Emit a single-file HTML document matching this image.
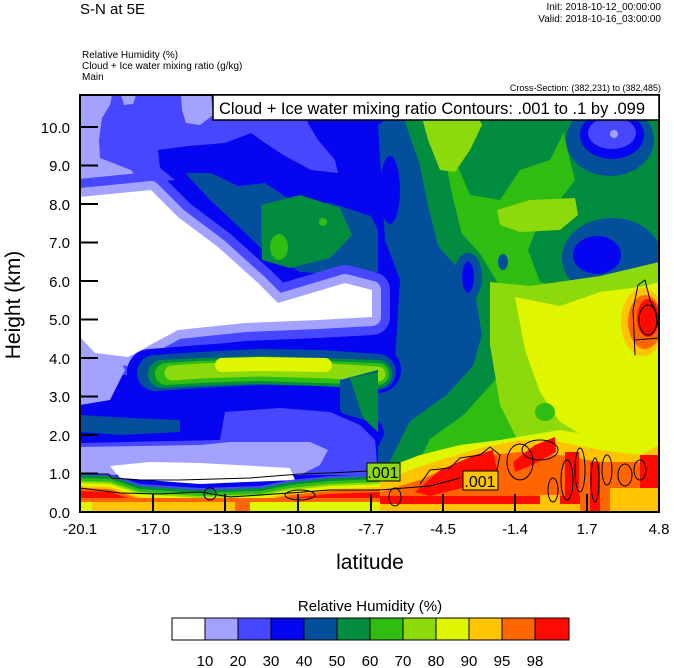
<!DOCTYPE html>
<html><head><meta charset="utf-8"><style>
html,body{margin:0;padding:0;background:#fff;}
svg{display:block;font-family:"Liberation Sans",Arial,sans-serif;}
</style></head><body>
<svg width="674" height="668" viewBox="0 0 674 668" xmlns="http://www.w3.org/2000/svg">
<defs><clipPath id="pc"><rect x="80" y="95" width="579" height="417"/></clipPath></defs>
<text x="80" y="14" font-size="15">S-N at 5E</text>
<text x="661" y="10" font-size="10" text-anchor="end">Init: 2018-10-12_00:00:00</text>
<text x="661" y="22" font-size="10" text-anchor="end">Valid: 2018-10-16_03:00:00</text>
<text x="82" y="58" font-size="10">Relative Humidity   (%)</text>
<text x="82" y="69" font-size="10">Cloud + Ice water mixing ratio   (g/kg)</text>
<text x="82" y="80" font-size="10">Main</text>
<text x="661" y="91" font-size="9" text-anchor="end">Cross-Section: (382,231) to (382,485)</text>

<g clip-path="url(#pc)" stroke-linejoin="round" stroke-linecap="round">
<rect x="80" y="95" width="579" height="417" fill="#0505f0"/>
<polygon points="378,125 400,110 430,120 470,200 495,300 490,380 440,430 395,455 375,460 365,420 395,360 400,280 385,240" fill="#034f9b"/>
<ellipse cx="390" cy="190" rx="10" ry="34" fill="#0505f0"/>
<ellipse cx="375" cy="440" rx="10" ry="20" fill="#0505f0"/>
<polygon points="420,95 659,95 659,512 400,512 400,470 420,430 455,405 485,372 495,335 488,292 470,262 450,240 440,200 432,160 418,120" fill="#2fbd12" stroke="#034f9b" stroke-width="60"/>
<polygon points="420,95 659,95 659,512 400,512 400,470 420,430 455,405 485,372 495,335 488,292 470,262 450,240 440,200 432,160 418,120" fill="#2fbd12" stroke="#028c40" stroke-width="26"/>
<polygon points="450,95 560,95 565,130 550,160 520,170 500,200 470,195 455,160" fill="#028c40"/>
<polygon points="560,95 659,95 659,305 620,302 580,292 540,282 528,250 540,220 560,200 575,180 565,140" fill="#028c40"/>
<ellipse cx="612" cy="258" rx="50" ry="40" fill="#034f9b"/>
<ellipse cx="597" cy="255" rx="24" ry="19" fill="#0505f0"/>
<ellipse cx="610" cy="140" rx="44" ry="36" fill="#034f9b"/>
<ellipse cx="612" cy="135" rx="32" ry="24" fill="#0505f0"/>
<ellipse cx="612" cy="133" rx="24" ry="16" fill="#4747ff"/>
<ellipse cx="614" cy="134" rx="4" ry="4" fill="#a3a3ff"/>
<ellipse cx="468" cy="277" rx="10" ry="20" fill="#0505f0" stroke="#034f9b" stroke-width="8"/>
<ellipse cx="503" cy="262" rx="5" ry="8" fill="#034f9b"/>
<polygon points="420,110 470,100 482,125 470,150 455,172 440,170 428,140" fill="#8cd90c"/>
<polygon points="497,210 530,200 575,198 578,215 560,230 520,232 500,225" fill="#8cd90c"/>
<polygon points="490,282 530,286 600,276 659,262 659,455 560,455 520,445 500,405 490,345" fill="#8cd90c"/>
<polygon points="515,297 560,306 600,292 640,287 659,282 659,442 620,446 590,440 560,422 540,392 525,350" fill="#e0f500"/>
<ellipse cx="545" cy="412" rx="10" ry="9" fill="#2fbd12"/>
<ellipse cx="643" cy="322" rx="22" ry="34" fill="#ffc400"/>
<ellipse cx="645" cy="322" rx="17" ry="27" fill="#ff6600"/>
<ellipse cx="648" cy="318" rx="11" ry="19" fill="#ff0a00"/>
<polygon points="185,173 211,173 238,186 265,183 295,203 331,203 371,216 378,230 378,272 330,274 300,272 265,252 240,228 210,200" fill="#034f9b"/>
<polygon points="261,205 300,195 340,208 352,235 330,258 290,268 262,260" fill="#028c40"/>
<ellipse cx="279" cy="247" rx="9" ry="13" fill="#2fbd12"/>
<ellipse cx="323" cy="222" rx="4" ry="4" fill="#2fbd12"/>
<polygon points="80,95 300,95 308,123 318,140 335,160 338,173 311,170 285,156 265,143 251,133 225,143 188,146 158,150 160,168 175,180 80,190" fill="#4747ff"/>
<polygon points="80,95 112,95 110,105 102,118 99,140 100,158 118,165 131,170 140,182 80,190" fill="#a3a3ff"/>
<polygon points="121,95 136,95 133,104 124,105" fill="#a3a3ff"/>
<polygon points="181,95 211,95 213,115 200,125 186,123 182,110" fill="#a3a3ff"/>
<polygon points="80,197 151,190 178,217 218,247 258,283 278,303 345,283 372,290 372,317 318,320 245,323 178,330 128,357 95,353 80,337" fill="#4747ff" stroke="#4747ff" stroke-width="36"/>
<polygon points="80,197 151,190 178,217 218,247 258,283 278,303 345,283 372,290 372,317 318,320 245,323 178,330 128,357 95,353 80,337" fill="#a3a3ff" stroke="#a3a3ff" stroke-width="18"/>
<polygon points="80,330 110,340 125,370 110,400 80,405" fill="#a3a3ff"/>
<polygon points="80,197 151,190 178,217 218,247 258,283 278,303 345,283 372,290 372,317 318,320 245,323 178,330 128,357 95,353 80,337" fill="#fff"/>
<g fill="none">
<polyline points="150,372 200,368 260,364 320,364 378,370" stroke="#0505f0" stroke-width="46"/>
<polyline points="155,373 200,370 260,367 320,368 378,372" stroke="#034f9b" stroke-width="36"/>
<polyline points="162,374 200,372 260,370 320,372 378,374" stroke="#028c40" stroke-width="28"/>
<polyline points="166,374 200,372 260,370 320,372 378,374" stroke="#2fbd12" stroke-width="22"/>
<polyline points="172,373 200,371 260,369 330,371 378,374" stroke="#8cd90c" stroke-width="15"/>
<polyline points="222,365 260,364 325,365" stroke="#e0f500" stroke-width="14"/>
</g>
<polygon points="340,380 378,370 378,465 360,440 340,410" fill="#034f9b"/>
<polygon points="350,378 378,372 378,440 362,415" fill="#028c40"/>
<polygon points="80,405 130,408 180,415 225,410 280,405 330,410 365,420 378,432 378,475 80,475" fill="#0505f0"/>
<polygon points="80,415 130,418 180,420 180,432 120,435 80,432" fill="#034f9b"/>
<polygon points="80,443 220,440 225,412 280,408 330,412 360,425 375,440 378,475 80,475" fill="#4747ff"/>
<polygon points="80,447 200,445 230,442 310,442 328,450 320,465 300,475 80,475" fill="#a3a3ff"/>
<polygon points="110,466 150,462 200,463 290,468 295,480 200,484 120,478" fill="#fff"/>
<polygon points="80,473 110,474 140,484 200,488 260,486 290,480 330,476 380,474 420,470 420,512 80,512" fill="#4747ff"/>
<polygon transform="translate(0,2)" points="80,473 110,474 140,484 200,488 260,486 290,480 330,476 380,474 420,470 420,512 80,512" fill="#028c40"/>
<polygon transform="translate(0,5)" points="80,473 110,474 140,484 200,488 260,486 290,480 330,476 380,474 420,470 420,512 80,512" fill="#2fbd12"/>
<polygon transform="translate(0,8)" points="80,473 110,474 140,484 200,488 260,486 290,480 330,476 380,474 420,470 420,512 80,512" fill="#8cd90c"/>
<polygon transform="translate(0,10)" points="80,473 110,474 140,484 200,488 260,486 290,480 330,476 380,474 420,470 420,512 80,512" fill="#e0f500"/>
<polygon transform="translate(0,13)" points="80,473 110,474 140,484 200,488 260,486 290,480 330,476 380,474 420,470 420,512 80,512" fill="#ffc400"/>
<polygon transform="translate(0,15)" points="80,473 110,474 140,484 200,488 260,486 290,480 330,476 380,474 420,470 420,512 80,512" fill="#ff6600"/>
<polygon transform="translate(0,18)" points="80,473 110,474 140,484 200,488 260,486 290,480 330,476 380,474 420,470 420,512 80,512" fill="#ff0a00"/>
<rect x="80" y="498" width="340" height="14" fill="#ffc400"/>
<rect x="80" y="498" width="340" height="4" fill="#ff6600"/>
<rect x="80" y="502" width="12" height="10" fill="#e0f500"/>
<rect x="235" y="502" width="16" height="10" fill="#ff6600"/>
<rect x="250" y="502" width="170" height="10" fill="#e0f500"/>
<polygon points="380,470 420,455 460,445 500,440 560,430 620,440 659,425 659,512 380,512" fill="#e0f500"/>
<polygon points="380,482 410,470 440,460 480,448 520,440 560,442 600,450 640,455 659,445 659,512 380,512" fill="#ffc400"/>
<polygon points="380,492 420,480 460,462 490,455 520,452 560,455 600,462 659,462 659,512 380,512" fill="#ff6600"/>
<polygon points="415,492 440,470 475,455 493,450 497,470 470,486 430,496" fill="#ff0a00"/>
<polygon points="513,462 535,445 555,437 556,452 530,466 515,472" fill="#ff0a00"/>
<rect x="565" y="452" width="14" height="60" fill="#ff0a00"/>
<rect x="590" y="462" width="10" height="50" fill="#ff0a00"/>
<rect x="640" y="455" width="19" height="35" fill="#ff0a00"/>
<rect x="380" y="496" width="200" height="8" fill="#ff0a00"/>
<rect x="380" y="504" width="200" height="8" fill="#ffc400"/>
<rect x="610" y="488" width="49" height="24" fill="#ffc400"/>
<rect x="540" y="495" width="20" height="17" fill="#ffc400"/>
<g fill="none" stroke="#000" stroke-width="1">
<polyline points="80,474 108,474 112,478 140,480 180,480 250,478 300,474 330,473 368,471"/>
<polyline points="80,488 120,493 160,494 200,492 230,497 290,493 330,490 380,490 430,486 460,478"/>
<polyline points="420,484 430,470 450,468 460,458 480,455 490,447 500,455 495,480"/>
<ellipse cx="300" cy="495" rx="15" ry="5"/>
<ellipse cx="210" cy="494" rx="6" ry="6"/>
<ellipse cx="395" cy="497" rx="6" ry="9"/>
<ellipse cx="520" cy="462" rx="13" ry="18"/>
<ellipse cx="540" cy="450" rx="18" ry="10"/>
<ellipse cx="567" cy="480" rx="6" ry="20"/>
<ellipse cx="580" cy="470" rx="5" ry="22"/>
<ellipse cx="595" cy="480" rx="4" ry="22"/>
<ellipse cx="607" cy="470" rx="5" ry="15"/>
<ellipse cx="625" cy="475" rx="7" ry="11"/>
<ellipse cx="640" cy="470" rx="6" ry="10"/>
<ellipse cx="553" cy="490" rx="5" ry="12"/>
<polyline points="635,355 633,310 638,285 645,280 650,300 655,310 659,330"/>
<ellipse cx="648" cy="320" rx="9" ry="15"/>
<polyline points="635,340 659,338"/>
</g>
<rect x="367" y="463" width="33" height="18" fill="#8cd90c" stroke="#000"/>
<text x="383" y="478" font-size="16" text-anchor="middle">.001</text>
<rect x="463" y="471" width="35" height="19" fill="#ffc400" stroke="#000"/>
<text x="480" y="487" font-size="16" text-anchor="middle">.001</text>
</g>
<g stroke="#000" stroke-width="2">
<line x1="80" y1="127" x2="98" y2="127"/><line x1="80" y1="165.5" x2="98" y2="165.5"/><line x1="80" y1="204" x2="98" y2="204"/><line x1="80" y1="242.5" x2="98" y2="242.5"/><line x1="80" y1="281" x2="98" y2="281"/><line x1="80" y1="319.5" x2="98" y2="319.5"/><line x1="80" y1="358" x2="98" y2="358"/><line x1="80" y1="396.5" x2="98" y2="396.5"/><line x1="80" y1="435" x2="98" y2="435"/><line x1="80" y1="473.5" x2="98" y2="473.5"/>
<line x1="153" y1="512" x2="153" y2="494"/><line x1="225" y1="512" x2="225" y2="494"/><line x1="298" y1="512" x2="298" y2="494"/><line x1="371" y1="512" x2="371" y2="494"/><line x1="443" y1="512" x2="443" y2="494"/><line x1="515" y1="512" x2="515" y2="494"/><line x1="587" y1="512" x2="587" y2="494"/>
</g>
<rect x="80" y="95" width="579" height="417" fill="none" stroke="#000" stroke-width="2"/>
<rect x="213" y="95" width="446" height="25" fill="#fff" stroke="#000" stroke-width="1.5"/>
<text x="219" y="114" font-size="16.5">Cloud + Ice water mixing ratio Contours: .001 to .1 by .099</text>
<g font-size="15" text-anchor="end">
<text x="70" y="133">10.0</text><text x="70" y="171">9.0</text><text x="70" y="210">8.0</text><text x="70" y="248">7.0</text><text x="70" y="287">6.0</text><text x="70" y="325">5.0</text><text x="70" y="364">4.0</text><text x="70" y="402">3.0</text><text x="70" y="441">2.0</text><text x="70" y="479">1.0</text><text x="70" y="518">0.0</text>
</g>
<g font-size="15" text-anchor="middle">
<text x="80" y="534">-20.1</text><text x="153" y="534">-17.0</text><text x="225" y="534">-13.9</text><text x="298" y="534">-10.8</text><text x="371" y="534">-7.7</text><text x="443" y="534">-4.5</text><text x="515" y="534">-1.4</text><text x="587" y="534">1.7</text><text x="659" y="534">4.8</text>
</g>
<text x="370" y="569" font-size="21" text-anchor="middle">latitude</text>
<text transform="translate(20,305) rotate(-90)" font-size="21" text-anchor="middle">Height (km)</text>
<text x="370" y="611" font-size="15" text-anchor="middle">Relative Humidity  (%)</text>
<g stroke="#000" stroke-width="1">
<rect x="172" y="618" width="33" height="22" fill="#fff"/>
<rect x="205" y="618" width="33" height="22" fill="#a3a3ff"/>
<rect x="238" y="618" width="33" height="22" fill="#4747ff"/>
<rect x="271" y="618" width="33" height="22" fill="#0505f0"/>
<rect x="304" y="618" width="33" height="22" fill="#034f9b"/>
<rect x="337" y="618" width="33" height="22" fill="#028c40"/>
<rect x="370" y="618" width="33" height="22" fill="#2fbd12"/>
<rect x="403" y="618" width="33" height="22" fill="#8cd90c"/>
<rect x="436" y="618" width="33" height="22" fill="#e0f500"/>
<rect x="469" y="618" width="33" height="22" fill="#ffc400"/>
<rect x="502" y="618" width="33" height="22" fill="#ff6600"/>
<rect x="535" y="618" width="34" height="22" fill="#ff0a00"/>
</g>
<g font-size="15" text-anchor="middle">
<text x="205" y="666">10</text><text x="238" y="666">20</text><text x="271" y="666">30</text><text x="304" y="666">40</text><text x="337" y="666">50</text><text x="370" y="666">60</text><text x="403" y="666">70</text><text x="436" y="666">80</text><text x="469" y="666">90</text><text x="502" y="666">95</text><text x="535" y="666">98</text>
</g>
</svg>
</body></html>
